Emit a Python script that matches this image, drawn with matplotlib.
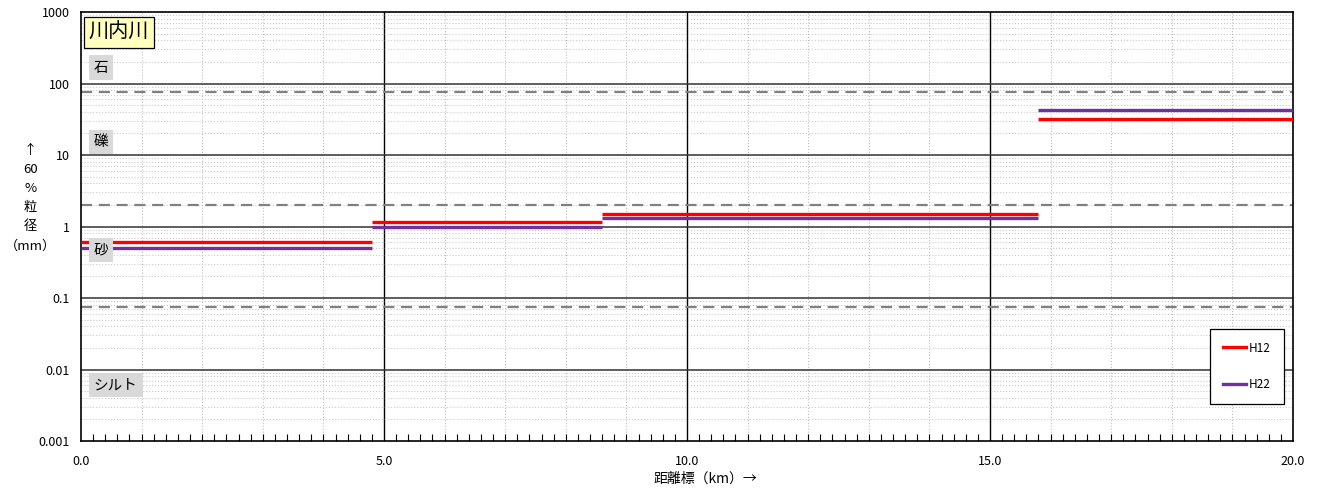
import matplotlib
matplotlib.use("Agg")
import matplotlib.pyplot as plt
from matplotlib.ticker import FixedLocator, MultipleLocator, NullFormatter
from matplotlib.lines import Line2D

plt.rcParams['font.family'] = ['Noto Sans CJK JP', 'DejaVu Sans']

# 区間 (km) と 60%粒径 (mm)
seg_start = [0.0, 4.8, 8.6, 15.8, 20.0]
seg_end = [4.8, 8.6, 15.8, 20.0, 20.4]
h12 = [0.6, 1.17, 1.5, 31.6, 22.6]
h22 = [0.5, 1.0, 1.31, 42.6]

x_ticks = [0.0, 5.0, 10.0, 15.0, 20.0]
y_ticks = [0.001, 0.01, 0.1, 1, 10, 100, 1000]
y_ticklabels = ['0.001', '0.01', '0.1', '1', '10', '100', '1000']
bounds = [75, 2, 0.075]  # 石/礫, 礫/砂, 砂/シルト

fig = plt.figure(figsize=(13.21, 4.90), dpi=100)
ax = fig.add_axes([0.0613, 0.1, 0.9175, 0.8755])
ax.set_yscale('log')
ax.set_xlim(0, 20)
ax.set_ylim(0.001, 1000)

# グリッド
for v in range(1, 20):
    if v % 5 == 0:
        ax.axvline(v, color='black', lw=1.0, zorder=1)
    else:
        ax.axvline(v, color='#c0c0c0', lw=0.8, ls=':', zorder=1)
for dec in [0.001, 0.01, 0.1, 1, 10, 100]:
    for m in range(2, 10):
        ax.axhline(dec * m, color='#cccccc', lw=0.8, ls=':', zorder=1)
for v in [0.01, 0.1, 1, 10, 100]:
    ax.axhline(v, color='#333333', lw=1.1, zorder=1)
for b in bounds:
    ax.axhline(b, color='#808080', lw=1.6, ls=(0, (5, 3)), zorder=2)

# 粒径
for i, v in enumerate(h12):
    ax.plot([seg_start[i], seg_end[i]], [v, v], color='#ff0000', lw=2.4,
            solid_capstyle='butt', zorder=4)
for i, v in enumerate(h22):
    ax.plot([seg_start[i], seg_end[i]], [v, v], color='#7030a0', lw=2.4,
            solid_capstyle='butt', zorder=3)

ax.set_xticks(x_ticks)
ax.set_xticklabels(['%.1f' % t for t in x_ticks], fontsize=9)
ax.xaxis.set_minor_locator(MultipleLocator(0.2))
ax.tick_params(axis='x', which='major', direction='in', length=0, pad=10)
ax.tick_params(axis='x', which='minor', direction='in', length=5, width=0.8)
ax.yaxis.set_major_locator(FixedLocator(y_ticks))
ax.set_yticklabels(y_ticklabels, fontsize=9)
ax.yaxis.set_minor_formatter(NullFormatter())
ax.tick_params(axis='y', which='both', length=0, pad=8)
for s in ax.spines.values():
    s.set_linewidth(1.2)

fig.text(0.534, 0.024, '距離標（km）→', fontsize=10, ha='center', va='center')
fig.text(0.023, 0.595, '↑\n60\n%\n粒\n径\n（mm）', ha='center', va='center',
         fontsize=9.5, linespacing=1.6)

# 区分名
box = dict(boxstyle='square,pad=0.35', fc='#d9d9d9', ec='none')
for txt, y in [('石', 167), ('礫', 15.2), ('砂', 0.467), ('シルト', 0.006)]:
    ax.text(0.0105, y, txt, fontsize=10.5, va='center', ha='left', bbox=box,
            transform=ax.get_yaxis_transform(), zorder=5)

ax.text(0.0065, 516, '川内川', fontsize=14.5, va='center', ha='left', zorder=5,
        transform=ax.get_yaxis_transform(),
        bbox=dict(boxstyle='square,pad=0.25', fc='#ffffc0', ec='black', lw=0.9))

handles = [Line2D([], [], color='#ff0000', lw=2.4),
           Line2D([], [], color='#7030a0', lw=2.4)]
leg = ax.legend(handles, ['H12', 'H22'], loc='lower right',
                bbox_to_anchor=(0.9926, 0.086), borderaxespad=0, fontsize=8.5,
                handlelength=2.0, handletextpad=0.25, labelspacing=2.0,
                borderpad=1.1, fancybox=False, edgecolor='black', framealpha=1)
leg.get_frame().set_linewidth(0.9)

fig.savefig('out.png', dpi=100)
